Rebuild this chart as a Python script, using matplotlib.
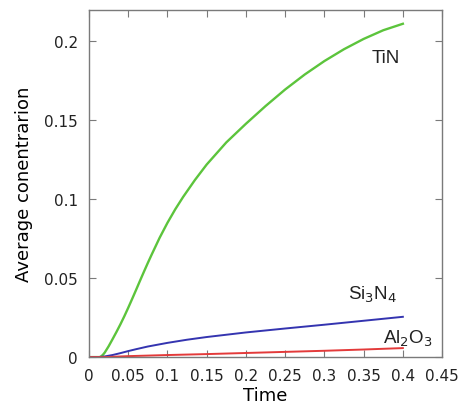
import matplotlib
matplotlib.use("Agg")
import matplotlib.pyplot as plt

# Average concentration of each phase over time
time_tin = [0.0, 0.0135, 0.015, 0.0175, 0.02, 0.025, 0.03, 0.035, 0.04, 0.045, 0.05,
            0.055, 0.06, 0.065, 0.07, 0.075, 0.08, 0.09, 0.1, 0.11, 0.12, 0.135, 0.15,
            0.175, 0.2, 0.225, 0.25, 0.275, 0.3, 0.325, 0.35, 0.375, 0.4]
tin = [0.0, 0.0, 0.0003, 0.0013, 0.0028, 0.0068, 0.0113, 0.0159, 0.0207, 0.0258, 0.0312,
       0.0368, 0.0425, 0.0483, 0.0540, 0.0596, 0.0650, 0.0755, 0.0850, 0.0936, 0.1014,
       0.1121, 0.1219, 0.1359, 0.1477, 0.1589, 0.1694, 0.1789, 0.1874, 0.1949, 0.2014,
       0.2069, 0.2110]

time_si3n4 = [0.0, 0.012, 0.02, 0.03, 0.04, 0.05, 0.06, 0.075, 0.1, 0.125, 0.15,
              0.2, 0.25, 0.3, 0.35, 0.4]
si3n4 = [0.0, 0.0, 0.0004, 0.0013, 0.0025, 0.0038, 0.0050, 0.0067, 0.0090, 0.0110, 0.0127,
         0.0156, 0.0181, 0.0205, 0.0230, 0.0255]

time_al2o3 = [0.0, 0.02, 0.05, 0.1, 0.15, 0.2, 0.25, 0.3, 0.35, 0.4]
al2o3 = [0.0, 0.0, 0.0006, 0.0013, 0.0019, 0.0026, 0.0033, 0.0040, 0.0048, 0.0057]

x_ticks = [0, 0.05, 0.1, 0.15, 0.2, 0.25, 0.3, 0.35, 0.4, 0.45]
x_tick_labels = ["0", "0.05", "0.1", "0.15", "0.2", "0.25", "0.3", "0.35", "0.4", "0.45"]
y_ticks = [0, 0.05, 0.1, 0.15, 0.2]
y_tick_labels = ["0", "0.05", "0.1", "0.15", "0.2"]

fig = plt.figure(figsize=(4.61, 4.06), dpi=100)
ax = fig.add_axes([0.193, 0.118, 0.766, 0.856])

ax.plot(time_tin, tin, color="#5cc43c", lw=1.7, solid_joinstyle="round")
ax.plot(time_si3n4, si3n4, color="#3434b0", lw=1.4, solid_joinstyle="round")
ax.plot(time_al2o3, al2o3, color="#e33a3a", lw=1.4, solid_joinstyle="round")

ax.set_xlim(0, 0.45)
ax.set_ylim(0, 0.22)
ax.set_xticks(x_ticks)
ax.set_xticklabels(x_tick_labels)
ax.set_yticks(y_ticks)
ax.set_yticklabels(y_tick_labels)

gray = "#7a7a7a"
for s in ax.spines.values():
    s.set_color(gray)
    s.set_linewidth(1.0)
ax.tick_params(direction="in", length=5, width=0.8, color=gray,
               top=True, right=True, labelsize=11, labelcolor="#222222", pad=8)

ax.set_xlabel("Time", fontsize=13, labelpad=2)
ax.set_ylabel("Average conentrarion", fontsize=13, labelpad=8)

lab = dict(family=["Liberation Sans", "DejaVu Sans"], fontsize=13.5, color="#222222",
           ha="center", va="baseline")
ax.text(0.3785, 0.1865, "TiN", **lab)
ax.text(0.362, 0.0367, "Si$_3$N$_4$", **lab)
ax.text(0.406, 0.0093, "Al$_2$O$_3$", **lab)

fig.savefig("out.png", dpi=100)
